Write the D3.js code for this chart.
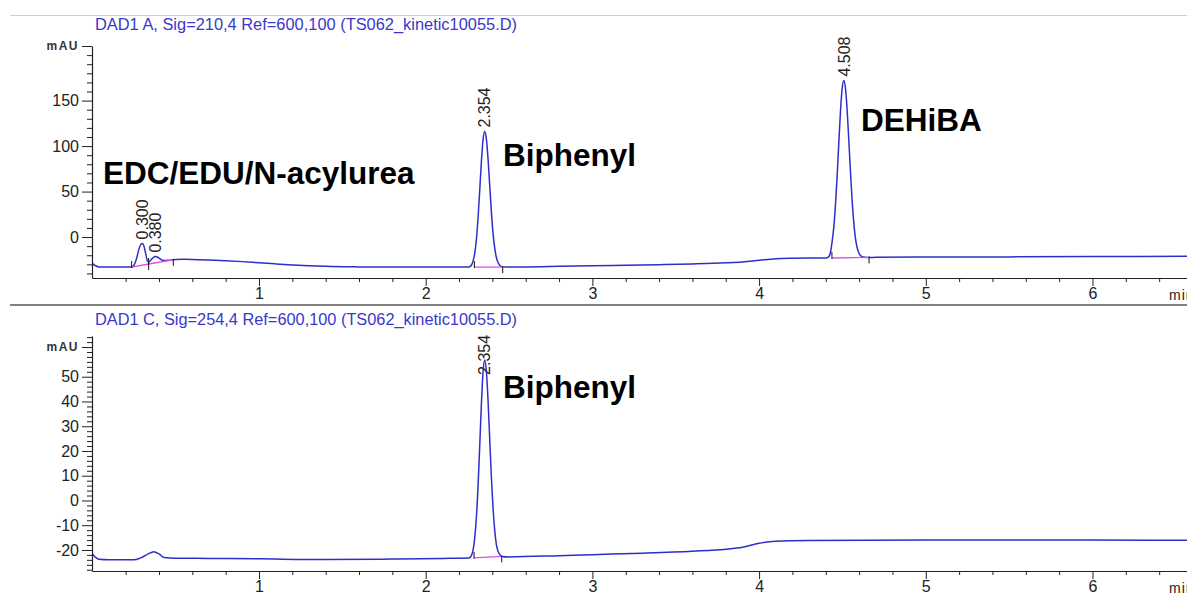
<!DOCTYPE html>
<html>
<head>
<meta charset="utf-8">
<script src="https://cdn.jsdelivr.net/npm/d3@7"></script>
<style>
  html, body { margin: 0; padding: 0; background: #fff; }
  svg { display: block; }
</style>
</head>
<body>
<svg id="chart" width="1187" height="596"></svg>
<script>
// ---- Signal A (210 nm): retention time (min) and absorbance (mAU) ----
const timeA = [
  0.000, 0.020, 0.040, 0.100, 0.200, 0.236, 0.250, 0.265, 0.280, 0.292, 0.300, 0.310, 0.320, 0.330,
  0.338, 0.350, 0.365, 0.380, 0.395, 0.410, 0.430, 0.460, 0.500, 0.550, 0.600, 0.700, 0.800, 0.900,
  1.000, 1.100, 1.200, 1.300, 1.400, 1.600, 1.800, 2.000, 2.200, 2.260,
  2.274, 2.284, 2.294, 2.304, 2.314, 2.324, 2.334, 2.344, 2.354, 2.364, 2.374, 2.384, 2.394, 2.404,
  2.414, 2.424, 2.434, 2.444, 2.456, 2.480, 2.600, 2.800, 3.000, 3.200, 3.400, 3.600, 3.800, 3.900,
  4.000, 4.100, 4.200, 4.300, 4.400, 4.418, 4.428, 4.438, 4.448, 4.458, 4.468, 4.478, 4.488, 4.498,
  4.508, 4.518, 4.528, 4.538, 4.548, 4.558, 4.568, 4.578, 4.588, 4.598, 4.608, 4.620, 4.650, 4.700,
  5.000, 5.500, 6.000, 6.570
];
const signalA = [
  -29.0, -31.5, -32.8, -33.0, -33.0, -33.0, -31.0, -24.0, -13.0, -8.0, -7.0, -10.0, -18.0, -26.0,
  -27.5, -25.5, -22.5, -21.5, -22.5, -24.5, -25.8, -25.5, -24.8, -24.5, -24.6, -25.2, -26.0, -27.0,
  -28.3, -29.5, -30.6, -31.5, -32.2, -32.8, -33.0, -33.0, -33.0, -33.0,
  -31.0, -26.5, -18.0, -3.0, 21.0, 51.0, 82.5, 107.0, 116.0, 108.0, 86.0, 57.0, 28.0, 4.0,
  -12.0, -22.5, -28.0, -31.0, -32.5, -33.0, -32.8, -32.2, -31.6, -31.0, -30.3, -29.5, -28.3, -27.3,
  -25.5, -23.8, -23.2, -23.0, -23.0, -21.5, -17.0, -5.2, 10.6, 34.5, 66.3, 102.7, 137.4, 162.7,
  172.0, 163.8, 140.3, 107.3, 72.3, 40.3, 15.8, -1.2, -11.7, -17.2, -20.2, -21.7, -22.4, -22.3,
  -22.0, -21.8, -21.5, -21.2
];

// ---- Signal C (254 nm) ----
const timeC = [
  0.000, 0.020, 0.040, 0.100, 0.250, 0.290, 0.330, 0.370, 0.400, 0.430, 0.500, 0.700, 1.000, 1.400,
  1.800, 2.100, 2.260,
  2.274, 2.284, 2.294, 2.304, 2.314, 2.324, 2.334, 2.344, 2.354, 2.364, 2.374, 2.384, 2.394, 2.404,
  2.414, 2.424, 2.434, 2.444, 2.456, 2.500, 2.800, 3.000, 3.300, 3.600, 3.800, 3.900, 4.000, 4.100,
  4.300, 5.000, 6.000, 6.570
];
const signalC = [
  -21.5, -23.0, -23.8, -24.0, -24.0, -23.2, -21.8, -20.7, -21.6, -23.0, -23.3, -23.4, -23.6, -23.9,
  -23.7, -23.4, -23.2,
  -22.3, -20.2, -15.1, -7.0, 5.6, 21.8, 38.8, 51.8, 56.8, 52.3, 40.5, 25.0, 9.5, -3.0,
  -12.0, -17.8, -20.5, -21.8, -22.6, -22.8, -22.3, -21.9, -21.3, -20.5, -19.7, -18.9, -17.3, -16.5,
  -16.2, -16.0, -16.0, -16.1
];

// ---- Integrated peaks ----
const peakTimesA = [0.300, 0.380, 2.354, 4.508];
const peakLabelsA = ["0.300", "0.380", "2.354", "4.508"];
const peakTimesC = [2.354];
const peakLabelsC = ["2.354"];

// integration baselines: start/end time and baseline level (mAU)
const baseStartA = [0.236, 0.338, 2.292, 4.437];
const baseEndA = [0.338, 0.486, 2.462, 4.660];
const baseStartValA = [-33.0, -29.6, -33.0, -23.0];
const baseEndValA = [-29.6, -25.0, -33.0, -22.4];
const baseStartC = [2.290];
const baseEndC = [2.456];
const baseStartValC = [-23.2];
const baseEndValC = [-22.6];

// ---- Axis ticks ----
const xMajorTicks = [1, 2, 3, 4, 5, 6];
const yMajorTicksA = [0, 50, 100, 150];
const yMajorTicksC = [-20, -10, 0, 10, 20, 30, 40, 50];

// ---- Compound names ----
const compoundNamesA = ["EDC/EDU/N-acylurea", "Biphenyl", "DEHiBA"];
const compoundNamesC = ["Biphenyl"];

const titleA = "DAD1 A, Sig=210,4 Ref=600,100 (TS062_kinetic10055.D)";
const titleC = "DAD1 C, Sig=254,4 Ref=600,100 (TS062_kinetic10055.D)";

const TRACE = "#2e2ecc";
const BASE = "#e050dc";
const TITLE = "#3838cc";
const FONT = '"Liberation Sans", Arial, sans-serif';

const svg = d3.select("#chart");
const W = 1187;

// frame lines
svg.append("line").attr("x1", 10).attr("x2", W).attr("y1", 15.5).attr("y2", 15.5)
  .attr("stroke", "#cfcfcf").attr("stroke-width", 1);
svg.append("line").attr("x1", 10).attr("x2", W).attr("y1", 305).attr("y2", 305)
  .attr("stroke", "#808080").attr("stroke-width", 2);

const x = d3.scaleLinear().domain([0, 6.57]).range([92.3, 1187.5]);

function drawPanel(p, idx) {
  const g = svg.append("g");
  const y = d3.scaleLinear().domain(p.yDomain).range(p.yRange);
  const bottom = p.yRange[0], top = p.yRange[1];

  // title
  g.append("text").attr("x", 95).attr("y", p.titleY)
    .attr("fill", TITLE).style("font", `16px ${FONT}`)
    .attr("textLength", 422).attr("lengthAdjust", "spacingAndGlyphs")
    .text(p.title);

  // trace, clipped to plot area
  const clipId = "clip" + idx;
  svg.append("clipPath").attr("id", clipId).append("rect")
    .attr("x", 92).attr("y", top).attr("width", W - 92).attr("height", bottom - top);

  const pts = p.time.map((t, i) => [t, p.signal[i]]);
  const line = d3.line().x(d => x(d[0])).y(d => y(d[1])).curve(d3.curveMonotoneX);
  g.append("path").datum(pts).attr("clip-path", `url(#${clipId})`)
    .attr("d", line).attr("fill", "none").attr("stroke", TRACE)
    .attr("stroke-width", 1.5).attr("stroke-linejoin", "round");

  // integration baselines + event marks
  p.bStart.forEach((s, i) => {
    const e = p.bEnd[i];
    g.append("line")
      .attr("x1", x(s)).attr("y1", y(p.bStartVal[i]))
      .attr("x2", x(e)).attr("y2", y(p.bEndVal[i]))
      .attr("stroke", BASE).attr("stroke-width", 1.3);
    g.append("line").attr("x1", x(s)).attr("x2", x(s))
      .attr("y1", y(p.bStartVal[i]) + 1).attr("y2", y(p.bStartVal[i]) - 6)
      .attr("stroke", "#111").attr("stroke-width", 1);
    g.append("line").attr("x1", x(e)).attr("x2", x(e))
      .attr("y1", y(p.bEndVal[i]) - 1).attr("y2", y(p.bEndVal[i]) + 6)
      .attr("stroke", "#111").attr("stroke-width", 1);
  });

  // peak retention time labels
  p.peaks.forEach((t, i) => {
    const apexIdx = p.time.indexOf(t);
    const apex = p.signal[apexIdx];
    const px = x(t), py = y(apex) - p.labelGap;
    g.append("text")
      .attr("transform", `translate(${px},${py}) rotate(-90)`)
      .attr("dy", "0.36em").attr("text-anchor", "start")
      .attr("fill", "#222").style("font", `16px ${FONT}`)
      .text(p.peakLabels[i]);
  });

  // x axis
  const xMinor = d3.range(0.2, 6.57, 0.2).filter(v => Math.abs(v - Math.round(v)) > 1e-6);
  g.append("g").attr("transform", `translate(0,${bottom})`)
    .call(d3.axisBottom(x).tickValues(xMinor).tickSize(4).tickSizeOuter(0).tickFormat(""))
    .call(a => a.select(".domain").remove());
  const xa = g.append("g").attr("transform", `translate(0,${bottom})`)
    .call(d3.axisBottom(x).tickValues(xMajorTicks).tickSize(8).tickSizeOuter(0).tickPadding(2).tickFormat(d3.format("d")));
  xa.select(".domain").attr("stroke", "#222").attr("stroke-width", 1.2);
  xa.selectAll("text").style("font", `16px ${FONT}`).attr("fill", "#222");
  g.append("text").attr("x", 1169).attr("y", bottom + 21.5)
    .style("font", `14px ${FONT}`).attr("fill", "#222").attr("letter-spacing", "1px").text("min");

  // y axis
  const yMinor = d3.range(p.minorFrom, p.yDomain[1] + 0.001, p.minorStep)
    .filter(v => !p.majors.includes(v) && v !== p.unitTick);
  g.append("g").attr("transform", "translate(92,0)")
    .call(d3.axisLeft(y).tickValues(yMinor).tickSize(5).tickSizeOuter(0).tickFormat(""))
    .call(a => a.select(".domain").remove());
  const ya = g.append("g").attr("transform", "translate(92,0)")
    .call(d3.axisLeft(y).tickValues(p.majors.concat([p.unitTick])).tickSize(10).tickSizeOuter(0).tickPadding(3)
      .tickFormat(d => d === p.unitTick ? "mAU" : d));
  ya.select(".domain").attr("stroke", "#222").attr("stroke-width", 1.2);
  ya.selectAll("text").style("font", `16px ${FONT}`).attr("fill", "#222");
  ya.selectAll(".tick").filter(d => d === p.unitTick).select("text")
    .style("font", `bold 12px ${FONT}`).attr("letter-spacing", "1.5px").attr("fill", "#333");
  g.selectAll(".tick line").attr("stroke", "#222");

  // compound annotations
  p.annotations.forEach(a => {
    g.append("text").attr("x", a.x).attr("y", a.y)
      .style("font", `bold 31.5px ${FONT}`).attr("fill", "#000").text(a.text);
  });
}

drawPanel({
  title: titleA, titleY: 30,
  yDomain: [-45, 210], yRange: [278, 46],
  majors: yMajorTicksA, unitTick: 210, minorFrom: -40, minorStep: 10,
  time: timeA, signal: signalA,
  peaks: peakTimesA, peakLabels: peakLabelsA, labelGap: 4,
  bStart: baseStartA, bEnd: baseEndA, bStartVal: baseStartValA, bEndVal: baseEndValA,
  annotations: [
    { text: compoundNamesA[0], x: 103, y: 184 },
    { text: compoundNamesA[1], x: 503, y: 166 },
    { text: compoundNamesA[2], x: 861, y: 131 }
  ]
}, 0);

drawPanel({
  title: titleC, titleY: 325,
  yDomain: [-28.5, 66.5], yRange: [571, 335.9],
  majors: yMajorTicksC, unitTick: 62, minorFrom: -28, minorStep: 2,
  time: timeC, signal: signalC,
  peaks: peakTimesC, peakLabels: peakLabelsC, labelGap: -15,
  bStart: baseStartC, bEnd: baseEndC, bStartVal: baseStartValC, bEndVal: baseEndValC,
  annotations: [
    { text: compoundNamesC[0], x: 503, y: 398 }
  ]
}, 1);
</script>
</body>
</html>
